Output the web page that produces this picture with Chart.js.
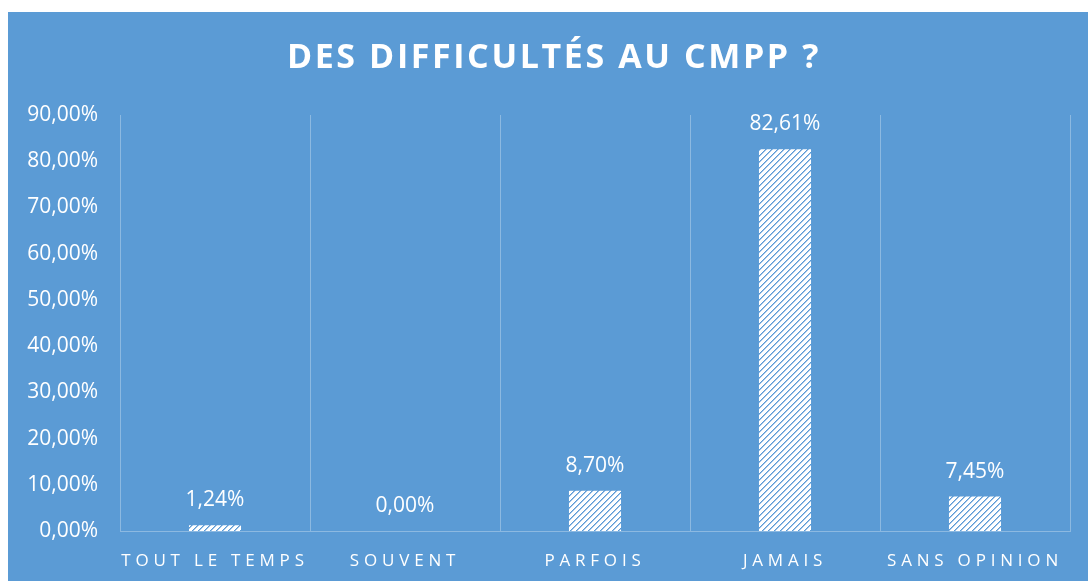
<!DOCTYPE html>
<html>
<head>
<meta charset="utf-8">
<script src="https://cdn.jsdelivr.net/npm/chart.js@4.4.1/dist/chart.umd.min.js"></script>
<style>
html, body { margin: 0; padding: 0; background: #fff; }
#box { position: absolute; left: 8px; top: 12px; width: 1080px; height: 569px; background: #5b9bd5; }
</style>
</head>
<body>
<div id="box"><canvas id="chart" width="1080" height="569"></canvas></div>
<script>
// Data
const chartTitle = 'DES DIFFICULTÉS AU CMPP ?';
const categories = ['TOUT LE TEMPS', 'SOUVENT', 'PARFOIS', 'JAMAIS', 'SANS OPINION'];
const percentages = [1.24, 0, 8.70, 82.61, 7.45];
const yMin = 0;
const yMax = 90;
const yStep = 10;

const bg = '#5b9bd5';
const gridColor = 'rgba(255,255,255,0.3)';
const fontFamily = '"Open Sans", sans-serif';

function fmtPct(v) {
    return v.toFixed(2).replace('.', ',') + '%';
}

// white bars with blue "/" stripes
function makeHatch() {
    const c = document.createElement('canvas');
    c.width = 6; c.height = 6;
    const g = c.getContext('2d');
    g.fillStyle = '#fff';
    g.fillRect(0, 0, 6, 6);
    for (let i = 0; i < 6; i++) {
        for (let j = 0; j < 6; j++) {
            const k = (i + j) % 6;
            if (k === 0) { g.fillStyle = bg; g.fillRect(i, j, 1, 1); }
            if (k === 1) { g.fillStyle = '#9fc3e8'; g.fillRect(i, j, 1, 1); }
        }
    }
    return g.createPattern(c, 'repeat');
}

const titlePlugin = {
    id: 'bigTitle',
    afterDraw(chart) {
        const ctx = chart.ctx;
        ctx.save();
        ctx.font = 'bold 34px ' + fontFamily;
        ctx.letterSpacing = '2.6px';
        ctx.fillStyle = '#fff';
        ctx.textAlign = 'center';
        ctx.textBaseline = 'middle';
        ctx.fillText(chartTitle, 546, 46);
        ctx.restore();
    }
};

const valueLabels = {
    id: 'valueLabels',
    afterDatasetsDraw(chart) {
        const ctx = chart.ctx;
        const meta = chart.getDatasetMeta(0);
        ctx.save();
        ctx.font = '21px ' + fontFamily;
        ctx.fillStyle = '#fff';
        ctx.textAlign = 'center';
        ctx.textBaseline = 'middle';
        meta.data.forEach((bar, i) => {
            ctx.fillText(fmtPct(percentages[i]), bar.x, bar.y - 25);
        });
        ctx.restore();
    }
};

const chart = new Chart(document.getElementById('chart'), {
    type: 'bar',
    data: {
        labels: categories,
        datasets: [{
            data: percentages,
            backgroundColor: makeHatch(),
            borderWidth: 0,
            barPercentage: 0.274,
            categoryPercentage: 1
        }]
    },
    options: {
        responsive: false,
        devicePixelRatio: 1,
        animation: false,
        layout: { padding: { top: 103, right: 18, bottom: 0, left: 0 } },
        plugins: {
            legend: { display: false },
            tooltip: { enabled: false },
            title: { display: false }
        },
        scales: {
            x: {
                offset: true,
                grid: { display: true, offset: true, color: gridColor, lineWidth: 1, drawTicks: false },
                border: { display: true, color: gridColor, width: 1 },
                ticks: { color: '#fff', font: { family: fontFamily, size: 17 }, padding: 20, maxRotation: 0, autoSkip: false },
                afterFit(s) { s.height = 50; }
            },
            y: {
                min: yMin,
                max: yMax,
                grid: { display: false, drawTicks: false },
                border: { display: false },
                ticks: {
                    stepSize: yStep,
                    color: '#fff',
                    font: { family: fontFamily, size: 21 },
                    padding: 22,
                    callback: (v) => fmtPct(v)
                },
                afterFit(s) { s.width = 112; }
            }
        }
    },
    plugins: [titlePlugin, valueLabels]
});

// spaced-out category labels
const xs = chart.scales.x;
const origDrawLabels = xs.drawLabels.bind(xs);
xs.drawLabels = function (area) {
    chart.ctx.save();
    chart.ctx.letterSpacing = '4.8px';
    origDrawLabels(area);
    chart.ctx.restore();
};
chart.draw();
</script>
</body>
</html>
